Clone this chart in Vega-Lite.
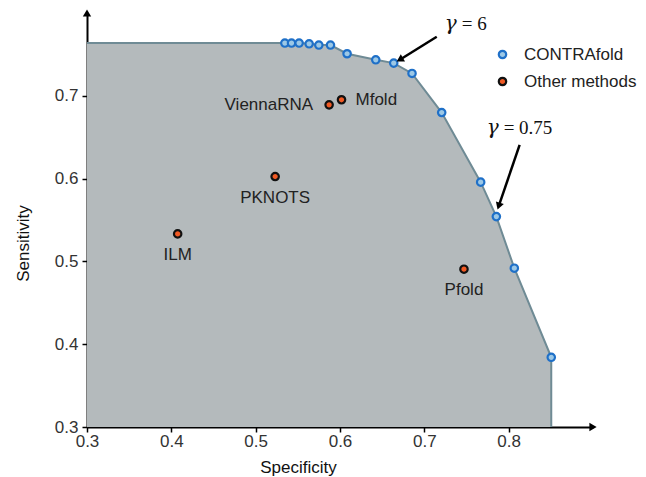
{
  "$schema": "https://vega.github.io/schema/vega-lite/v6.json",
  "width": 506,
  "height": 414,
  "autosize": "none",
  "padding": {"left": 87, "top": 13, "right": 53, "bottom": 50},
  "background": "white",
  "config": {
    "view": {"stroke": null},
    "font": "Liberation Sans"
  },
  "datasets": {
    "curve": [
      {"i": 0, "spec": 0.3, "sens": 0.7637},
      {"i": 1, "spec": 0.5346, "sens": 0.7637},
      {"i": 2, "spec": 0.5425, "sens": 0.7637},
      {"i": 3, "spec": 0.5515, "sens": 0.7637},
      {"i": 4, "spec": 0.5634, "sens": 0.7628},
      {"i": 5, "spec": 0.5749, "sens": 0.7613},
      {"i": 6, "spec": 0.5887, "sens": 0.7613},
      {"i": 7, "spec": 0.6084, "sens": 0.7508},
      {"i": 8, "spec": 0.6424, "sens": 0.7435},
      {"i": 9, "spec": 0.6637, "sens": 0.7395},
      {"i": 10, "spec": 0.6854, "sens": 0.727},
      {"i": 11, "spec": 0.7206, "sens": 0.6798},
      {"i": 12, "spec": 0.7668, "sens": 0.5957},
      {"i": 13, "spec": 0.7854, "sens": 0.5541},
      {"i": 14, "spec": 0.8067, "sens": 0.4918},
      {"i": 15, "spec": 0.8505, "sens": 0.3842}
    ],
    "outline": [
      {"i": 0, "spec": 0.3, "sens": 0.7637},
      {"i": 1, "spec": 0.5346, "sens": 0.7637},
      {"i": 2, "spec": 0.5515, "sens": 0.7637},
      {"i": 3, "spec": 0.5634, "sens": 0.7628},
      {"i": 4, "spec": 0.5749, "sens": 0.7613},
      {"i": 5, "spec": 0.5887, "sens": 0.7613},
      {"i": 6, "spec": 0.6084, "sens": 0.7508},
      {"i": 7, "spec": 0.6424, "sens": 0.7435},
      {"i": 8, "spec": 0.6637, "sens": 0.7395},
      {"i": 9, "spec": 0.6854, "sens": 0.727},
      {"i": 10, "spec": 0.7206, "sens": 0.6798},
      {"i": 11, "spec": 0.7668, "sens": 0.5957},
      {"i": 12, "spec": 0.7854, "sens": 0.5541},
      {"i": 13, "spec": 0.8067, "sens": 0.4918},
      {"i": 14, "spec": 0.8505, "sens": 0.3842},
      {"i": 15, "spec": 0.8505, "sens": 0.3}
    ],
    "points": [
      {"group": "CONTRAfold", "name": "", "spec": 0.5346, "sens": 0.7637},
      {"group": "CONTRAfold", "name": "", "spec": 0.5425, "sens": 0.7637},
      {"group": "CONTRAfold", "name": "", "spec": 0.5515, "sens": 0.7637},
      {"group": "CONTRAfold", "name": "", "spec": 0.5634, "sens": 0.7628},
      {"group": "CONTRAfold", "name": "", "spec": 0.5749, "sens": 0.7613},
      {"group": "CONTRAfold", "name": "", "spec": 0.5887, "sens": 0.7613},
      {"group": "CONTRAfold", "name": "", "spec": 0.6084, "sens": 0.7508},
      {"group": "CONTRAfold", "name": "", "spec": 0.6424, "sens": 0.7435},
      {"group": "CONTRAfold", "name": "", "spec": 0.6637, "sens": 0.7395},
      {"group": "CONTRAfold", "name": "", "spec": 0.6854, "sens": 0.727},
      {"group": "CONTRAfold", "name": "", "spec": 0.7206, "sens": 0.6798},
      {"group": "CONTRAfold", "name": "", "spec": 0.7668, "sens": 0.5957},
      {"group": "CONTRAfold", "name": "", "spec": 0.7854, "sens": 0.5541},
      {"group": "CONTRAfold", "name": "", "spec": 0.8067, "sens": 0.4918},
      {"group": "CONTRAfold", "name": "", "spec": 0.8505, "sens": 0.3842},
      {"group": "Other methods", "name": "ViennaRNA", "spec": 0.5871, "sens": 0.6891},
      {"group": "Other methods", "name": "Mfold", "spec": 0.6018, "sens": 0.6952},
      {"group": "Other methods", "name": "PKNOTS", "spec": 0.5231, "sens": 0.6025},
      {"group": "Other methods", "name": "ILM", "spec": 0.4075, "sens": 0.5332},
      {"group": "Other methods", "name": "Pfold", "spec": 0.747, "sens": 0.4906}
    ],
    "arrows": [
      {"sym": "γ", "rest": "= 6", "tx": 0.7147, "ty": 0.7713, "hx": 0.6709, "hy": 0.7435, "lx": 0.7408, "ly": 0.787},
      {"sym": "γ", "rest": "= 0.75", "tx": 0.813, "ty": 0.6408, "hx": 0.7882, "hy": 0.5667, "lx": 0.7905, "ly": 0.6613}
    ]
  },
  "layer": [
    {
      "data": {"name": "curve"},
      "mark": {"type": "area", "color": "#b4babc", "opacity": 1},
      "encoding": {
        "x": {"field": "spec", "type": "quantitative", "scale": {"domain": [0.3, 0.9], "nice": false, "zero": false},
          "axis": {"title": "Specificity", "values": [0.3, 0.4, 0.5, 0.6, 0.7, 0.8], "format": ".1f", "grid": false,
            "labelFlush": false, "labelOverlap": false,
            "domainColor": "#000", "domainWidth": 2, "tickColor": "#000", "tickWidth": 1.5, "tickSize": 5,
            "labelFontSize": 17, "labelColor": "#333", "labelPadding": 1, "labelFont": "Liberation Sans",
            "titleFontSize": 17, "titleFontWeight": "normal", "titleColor": "#111", "titleFont": "Liberation Sans",
            "titleX": 211, "titleY": 40, "titleBaseline": "middle"}},
        "y": {"field": "sens", "type": "quantitative", "scale": {"domain": [0.3, 0.8], "nice": false, "zero": false},
          "axis": {"title": "Sensitivity", "values": [0.3, 0.4, 0.5, 0.6, 0.7], "format": ".1f", "grid": false,
            "labelFlush": false, "labelOverlap": false,
            "domainColor": "#000", "domainWidth": 2, "tickColor": "#000", "tickWidth": 1.5, "tickSize": 5,
            "labelFontSize": 17, "labelColor": "#333", "labelPadding": 4, "labelFont": "Liberation Sans",
            "titleFontSize": 17, "titleFontWeight": "normal", "titleColor": "#111", "titleFont": "Liberation Sans",
            "titleX": -64, "titleY": 230, "titleBaseline": "middle", "titleAngle": -90}},
        "y2": {"datum": 0.3}
      }
    },
    {
      "data": {"name": "outline"},
      "mark": {"type": "line", "color": "#6f8b95", "strokeWidth": 2},
      "encoding": {
        "x": {"field": "spec", "type": "quantitative"},
        "y": {"field": "sens", "type": "quantitative"},
        "order": {"field": "i", "type": "quantitative"}
      }
    },
    {
      "data": {"name": "points"},
      "mark": {"type": "point", "shape": "circle", "filled": true, "size": 55, "strokeWidth": 2.2, "opacity": 1},
      "encoding": {
        "x": {"field": "spec", "type": "quantitative"},
        "y": {"field": "sens", "type": "quantitative"},
        "fill": {"field": "group", "type": "nominal",
          "scale": {"domain": ["CONTRAfold", "Other methods"], "range": ["#9cc8e6", "#f05a24"]},
          "legend": {"title": null, "orient": "none", "legendX": 407, "legendY": 33, "padding": 0,
            "labelFontSize": 17, "labelColor": "#222", "labelFont": "Liberation Sans", "labelOffset": 13,
            "rowPadding": 9, "symbolSize": 55, "symbolStrokeWidth": 2.2}},
        "stroke": {"field": "group", "type": "nominal",
          "scale": {"domain": ["CONTRAfold", "Other methods"], "range": ["#1f70c8", "#111111"]}}
      }
    },
    {
      "data": {"name": "points"},
      "transform": [{"filter": "datum.name === 'PKNOTS' || datum.name === 'ILM' || datum.name === 'Pfold'"}],
      "mark": {"type": "text", "fontSize": 17, "color": "#222", "dy": 21, "align": "center", "baseline": "middle", "font": "Liberation Sans"},
      "encoding": {
        "x": {"field": "spec", "type": "quantitative"},
        "y": {"field": "sens", "type": "quantitative"},
        "text": {"field": "name"}
      }
    },
    {
      "data": {"name": "points"},
      "transform": [{"filter": "datum.name === 'Mfold'"}],
      "mark": {"type": "text", "fontSize": 17, "color": "#222", "dx": 14, "align": "left", "baseline": "middle", "font": "Liberation Sans"},
      "encoding": {
        "x": {"field": "spec", "type": "quantitative"},
        "y": {"field": "sens", "type": "quantitative"},
        "text": {"field": "name"}
      }
    },
    {
      "data": {"name": "points"},
      "transform": [{"filter": "datum.name === 'ViennaRNA'"}],
      "mark": {"type": "text", "fontSize": 17, "color": "#222", "dx": -16, "align": "right", "baseline": "middle", "font": "Liberation Sans"},
      "encoding": {
        "x": {"field": "spec", "type": "quantitative"},
        "y": {"field": "sens", "type": "quantitative"},
        "text": {"field": "name"}
      }
    },
    {
      "data": {"name": "arrows"},
      "mark": {"type": "rule", "color": "#000", "strokeWidth": 2.5},
      "encoding": {
        "x": {"field": "tx", "type": "quantitative"},
        "y": {"field": "ty", "type": "quantitative"},
        "x2": {"field": "hx"},
        "y2": {"field": "hy"}
      }
    },
    {
      "data": {"name": "arrows"},
      "transform": [{"filter": "datum.rest === '= 6'"}],
      "mark": {"type": "point", "shape": "triangle-up", "filled": true, "color": "#000", "size": 70, "angle": 239.7, "opacity": 1},
      "encoding": {
        "x": {"field": "hx", "type": "quantitative"},
        "y": {"field": "hy", "type": "quantitative"}
      }
    },
    {
      "data": {"name": "arrows"},
      "transform": [{"filter": "datum.rest === '= 0.75'"}],
      "mark": {"type": "point", "shape": "triangle-up", "filled": true, "color": "#000", "size": 70, "angle": 198.8, "opacity": 1},
      "encoding": {
        "x": {"field": "hx", "type": "quantitative"},
        "y": {"field": "hy", "type": "quantitative"}
      }
    },
    {
      "data": {"name": "arrows"},
      "mark": {"type": "text", "fontSize": 20, "color": "#111", "font": "DejaVu Serif", "fontStyle": "italic", "align": "right", "baseline": "middle", "dx": -2},
      "encoding": {
        "x": {"field": "lx", "type": "quantitative"},
        "y": {"field": "ly", "type": "quantitative"},
        "text": {"field": "sym"}
      }
    },
    {
      "data": {"name": "arrows"},
      "mark": {"type": "text", "fontSize": 19, "color": "#111", "font": "Liberation Serif", "align": "left", "baseline": "middle", "dx": 3},
      "encoding": {
        "x": {"field": "lx", "type": "quantitative"},
        "y": {"field": "ly", "type": "quantitative"},
        "text": {"field": "rest"}
      }
    },
    {
      "data": {"values": [{"spec": 0.9, "sens": 0.3}]},
      "mark": {"type": "point", "shape": "triangle-right", "filled": true, "color": "#000", "size": 70, "opacity": 1},
      "encoding": {
        "x": {"field": "spec", "type": "quantitative"},
        "y": {"field": "sens", "type": "quantitative"}
      }
    },
    {
      "data": {"values": [{"spec": 0.3, "sens": 0.8}]},
      "mark": {"type": "point", "shape": "triangle-up", "filled": true, "color": "#000", "size": 70, "opacity": 1},
      "encoding": {
        "x": {"field": "spec", "type": "quantitative"},
        "y": {"field": "sens", "type": "quantitative"}
      }
    }
  ]
}
